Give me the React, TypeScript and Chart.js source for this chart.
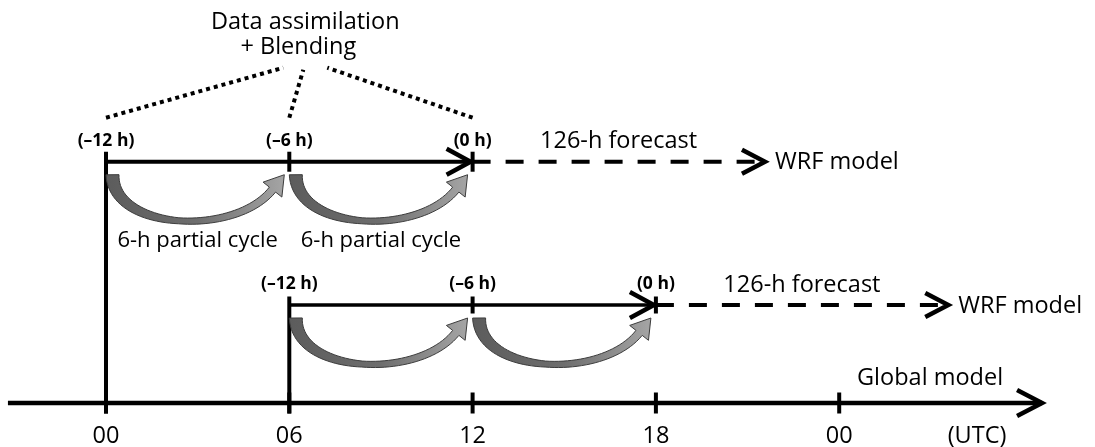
import React, { useEffect, useRef } from "react";
import { Chart, registerables } from "chart.js";

Chart.register(...registerables);

// ---- data ----
const utcHours = [0, 6, 12, 18, 24];
const utcLabels = ["00", "06", "12", "18", "00"];
const utcUnitLabel = "(UTC)";
const runAnalysisHours = [12, 18]; // (0 h) of each WRF run
const cycleOffsets = [-12, -6, 0];
const cycleOffsetLabels = ["(\u201312 h)", "(\u20136 h)", "(0 h)"];
const forecastLabel = "126-h forecast";
const modelLabel = "WRF model";
const globalLabel = "Global model";
const partialCycleLabel = "6-h partial cycle";
const daLabels = ["Data assimilation", "+ Blending"];

// ---- layout (not data) ----
const PX_PER_H = 30.55;
const ORIGIN_PX = 106;
const W = 1095;
const H = 447;
const AXIS_PX = 403;
const PX_PER_LANE = 98;
const runLanes = [2.462, 1];
const axisLane = 0;
const axisStartH = -3.21;
const axisEndH = 30.64;
const forecastSpanH = 9.57;

const FONT = "'Open Sans', 'Noto Sans', sans-serif";

function arrowHead(ctx: CanvasRenderingContext2D, x: number, y: number, dx: number, dy: number, lw: number) {
  ctx.save();
  ctx.strokeStyle = "#000";
  ctx.lineWidth = lw;
  ctx.lineJoin = "miter";
  ctx.lineCap = "butt";
  ctx.setLineDash([]);
  ctx.beginPath();
  ctx.moveTo(x - dx, y - dy);
  ctx.lineTo(x, y);
  ctx.lineTo(x - dx, y + dy);
  ctx.stroke();
  ctx.restore();
}

function curvedArrow(ctx: CanvasRenderingContext2D, xa: number, xb: number, rowY: number) {
  const ytop = rowY + 13;
  const dl = Math.hypot(0.62, 0.78);
  const dir = { x: 0.62 / dl, y: -0.78 / dl };
  const T = { x: xb - 5, y: ytop };
  const headLen = 19;
  const C = { x: T.x - dir.x * headLen, y: T.y - dir.y * headLen };
  const P0 = { x: xa + 6.5, y: ytop };
  const P1 = { x: xa + 7, y: ytop + 56 };
  const P2 = { x: C.x - dir.x * 60, y: C.y - dir.y * 60 };
  const P3 = C;
  const N = 48;
  const left: { x: number; y: number }[] = [];
  const right: { x: number; y: number }[] = [];
  let nEnd = { x: 0, y: 0 };
  for (let i = 0; i <= N; i++) {
    const t = i / N;
    const u = 1 - t;
    const px = u * u * u * P0.x + 3 * u * u * t * P1.x + 3 * u * t * t * P2.x + t * t * t * P3.x;
    const py = u * u * u * P0.y + 3 * u * u * t * P1.y + 3 * u * t * t * P2.y + t * t * t * P3.y;
    const dx = 3 * u * u * (P1.x - P0.x) + 6 * u * t * (P2.x - P1.x) + 3 * t * t * (P3.x - P2.x);
    const dy = 3 * u * u * (P1.y - P0.y) + 6 * u * t * (P2.y - P1.y) + 3 * t * t * (P3.y - P2.y);
    const len = Math.hypot(dx, dy) || 1;
    const n = { x: -dy / len, y: dx / len };
    const th = t < 0.5 ? 13 - 14 * t : 6 + 4 * (t - 0.5);
    left.push({ x: px + (n.x * th) / 2, y: py + (n.y * th) / 2 });
    right.push({ x: px - (n.x * th) / 2, y: py - (n.y * th) / 2 });
    if (i === N) nEnd = n;
  }
  ctx.save();
  ctx.setLineDash([]);
  ctx.beginPath();
  ctx.moveTo(left[0].x, left[0].y);
  for (const p of left) ctx.lineTo(p.x, p.y);
  const hw = 12;
  ctx.lineTo(C.x + nEnd.x * hw, C.y + nEnd.y * hw);
  ctx.lineTo(T.x, T.y);
  ctx.lineTo(C.x - nEnd.x * hw, C.y - nEnd.y * hw);
  for (let i = right.length - 1; i >= 0; i--) ctx.lineTo(right[i].x, right[i].y);
  ctx.closePath();
  const g = ctx.createLinearGradient(xa, 0, xb, 0);
  g.addColorStop(0, "#5c5c5c");
  g.addColorStop(0.5, "#6e6e6e");
  g.addColorStop(1, "#a8a8a8");
  ctx.fillStyle = g;
  ctx.fill();
  ctx.strokeStyle = "#3c3c3c";
  ctx.lineWidth = 1;
  ctx.stroke();
  ctx.restore();
}

function text(ctx: CanvasRenderingContext2D, s: string, x: number, y: number, font: string, align: CanvasTextAlign = "center") {
  ctx.save();
  ctx.font = font;
  ctx.fillStyle = "#000";
  ctx.textAlign = align;
  ctx.textBaseline = "middle";
  ctx.fillText(s, x, y);
  ctx.restore();
}

const diagramPlugin = {
  id: "diagram",
  afterDatasetsDraw(chart: any) {
    const ctx: CanvasRenderingContext2D = chart.ctx;
    const X = (h: number) => chart.scales.x.getPixelForValue(h);
    const Y = (v: number) => chart.scales.y.getPixelForValue(v);
    const axisY = Y(axisLane);
    const normal = `23.5px ${FONT}`;
    const small = `22px ${FONT}`;
    const bold = `bold 17.5px ${FONT}`;

    ctx.save();
    ctx.strokeStyle = "#000";
    ctx.lineCap = "butt";

    utcHours.forEach((h, i) => {
      ctx.lineWidth = 4;
      ctx.beginPath();
      ctx.moveTo(X(h), axisY - 10.5);
      ctx.lineTo(X(h), axisY + 10.5);
      ctx.stroke();
      text(ctx, utcLabels[i], X(h), axisY + 33, normal);
    });
    text(ctx, utcUnitLabel, X(axisEndH) - 65, axisY + 33, normal);
    text(ctx, globalLabel, X(axisEndH) - 112, axisY - 25, normal);
    arrowHead(ctx, X(axisEndH), axisY, 25, 13, 4.5);

    runAnalysisHours.forEach((h0, r) => {
      const rowY = Y(runLanes[r]);
      const tickH = r === 0 ? 10 : 8.5;
      cycleOffsets.forEach((off, k) => {
        const x = X(h0 + off);
        ctx.lineWidth = 4;
        ctx.beginPath();
        ctx.moveTo(x, rowY - tickH);
        ctx.lineTo(x, k === 0 ? axisY + 10.5 : rowY + tickH);
        ctx.stroke();
        text(ctx, cycleOffsetLabels[k], x, rowY - 21, bold);
      });
      for (let k = 0; k < cycleOffsets.length - 1; k++) {
        curvedArrow(ctx, X(h0 + cycleOffsets[k]), X(h0 + cycleOffsets[k + 1]), rowY);
      }
      arrowHead(ctx, X(h0) - 2, rowY, 24, 13, 4.5);
      const tip = X(h0 + forecastSpanH);
      arrowHead(ctx, tip, rowY, 23, 12, 4.5);
      text(ctx, forecastLabel, X(h0) + 146, rowY - 20, normal);
      text(ctx, modelLabel, tip + 10, rowY + 1, normal, "left");
      if (r === 0) {
        for (let k = 0; k < cycleOffsets.length - 1; k++) {
          const xm = (X(h0 + cycleOffsets[k]) + X(h0 + cycleOffsets[k + 1])) / 2;
          text(ctx, partialCycleLabel, xm, rowY + 79, small);
        }
        const cx = X(h0 - 6) + 16;
        text(ctx, daLabels[0], cx, rowY - 139, normal);
        text(ctx, daLabels[1], cx - 7, rowY - 114, normal);
        const tops = [cx - 22, cx - 2, cx + 22];
        const topsY = [rowY - 94, rowY - 92, rowY - 94];
        ctx.save();
        ctx.lineWidth = 4;
        ctx.setLineDash([4, 4]);
        cycleOffsets.forEach((off, k) => {
          ctx.beginPath();
          ctx.moveTo(X(h0 + off), rowY - 44);
          ctx.lineTo(tops[k], topsY[k]);
          ctx.stroke();
        });
        ctx.restore();
      }
    });
    ctx.restore();
  },
};

export default function App() {
  const ref = useRef<HTMLCanvasElement | null>(null);
  useEffect(() => {
    if (!ref.current) return;
    const datasets: any[] = [];
    datasets.push({
      data: [{ x: axisStartH, y: axisLane }, { x: axisEndH, y: axisLane }],
      borderColor: "#000",
      borderWidth: 4.5,
    });
    runAnalysisHours.forEach((h0, r) => {
      datasets.push({
        data: [{ x: h0 + cycleOffsets[0], y: runLanes[r] }, { x: h0, y: runLanes[r] }],
        borderColor: "#000",
        borderWidth: r === 0 ? 4 : 3.5,
      });
      datasets.push({
        data: [{ x: h0, y: runLanes[r] }, { x: h0 + forecastSpanH, y: runLanes[r] }],
        borderColor: "#000",
        borderWidth: 4,
        borderDash: [18, 15],
      });
    });
    datasets.forEach((d) => {
      d.showLine = true;
      d.pointRadius = 0;
      d.borderCapStyle = "butt";
      d.fill = false;
    });
    const chart = new Chart(ref.current, {
      type: "scatter",
      data: { datasets },
      options: {
        animation: false,
        responsive: false,
        maintainAspectRatio: false,
        events: [],
        layout: { padding: 0 },
        plugins: { legend: { display: false }, tooltip: { enabled: false } },
        scales: {
          x: { type: "linear", display: false, min: -ORIGIN_PX / PX_PER_H, max: (W - ORIGIN_PX) / PX_PER_H },
          y: { type: "linear", display: false, min: -(H - AXIS_PX) / PX_PER_LANE, max: AXIS_PX / PX_PER_LANE },
        },
      },
      plugins: [diagramPlugin],
    });
    return () => chart.destroy();
  }, []);
  return (
    <div style={{ position: "fixed", left: 0, top: 0, width: W, height: H, background: "#fff" }}>
      <canvas ref={ref} width={W} height={H} style={{ display: "block", width: W, height: H }} />
    </div>
  );
}
